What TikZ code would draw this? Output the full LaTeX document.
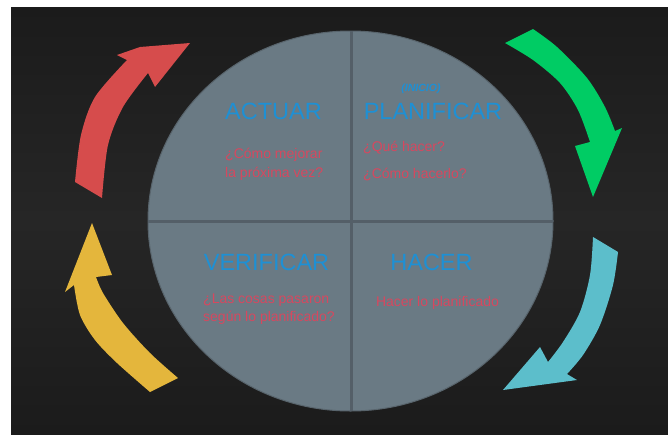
\documentclass[tikz,border=0pt]{standalone}
\usepackage{fontspec}
\setmainfont{Liberation Sans}
\definecolor{bgdark}{RGB}{27,27,27}
\definecolor{bgmid}{RGB}{38,38,38}
\definecolor{disc}{RGB}{106,122,132}
\definecolor{discedge}{RGB}{88,100,108}
\definecolor{divline}{RGB}{84,95,104}
\definecolor{titleblue}{RGB}{30,144,212}
\definecolor{qpink}{RGB}{214,72,95}
\definecolor{redc}{RGB}{214,76,76}
\definecolor{greenc}{RGB}{0,204,100}
\definecolor{cyanc}{RGB}{92,190,203}
\definecolor{yellowc}{RGB}{228,182,60}
\tikzset{
  title/.style={text=titleblue, font=\fontsize{23.5}{26}\selectfont, inner sep=0pt},
  question/.style={text=qpink, font=\fontsize{14}{17}\selectfont, inner sep=0pt},
  inicio/.style={text=titleblue, font=\fontsize{10.5}{12}\selectfont\bfseries\itshape, inner sep=0pt},
}
\begin{document}
\begin{tikzpicture}[x=1pt,y=-1pt]
\useasboundingbox (0,0) rectangle (668,434);
\fill[white] (0,0) rectangle (668,434);
\shade[top color=bgdark, bottom color=bgdark, middle color=bgmid] (11,7) rectangle (668,434);
% disc
\filldraw[fill=disc, draw=discedge, line width=1pt] (350.5,221) ellipse [x radius=202.5, y radius=190];
\draw[divline, line width=3pt] (351,31) -- (351,411);
\draw[divline, line width=3pt] (148,221) -- (553,221);
% arrows
\fill[redc] (75,182) -- plot[smooth] coordinates {(75,182) (81,135) (95,97) (127,60)} -- (117,55) -- (140,47) -- (190,43) -- (155,87) -- (148,73) -- plot[smooth] coordinates {(148,73) (123,107) (108,145) (102,198)} -- cycle;
\fill[greenc] (505,43) -- (533,29) -- plot[smooth] coordinates {(533,29) (557,47) (587,78) (605,107) (615,131)} -- (622,128) -- (593,197) -- (575,146) -- (590,142) -- plot[smooth] coordinates {(590,142) (578,110) (560,83) (533,60) (505,43)} -- cycle;
\fill[cyanc] (593,237) -- (618,252) -- plot[smooth] coordinates {(618,252) (613,285) (600,325) (583,355) (567,374)} -- (577,380) -- (503,390) -- (540,347) -- (548,362) -- plot[smooth] coordinates {(548,362) (563,342) (580,312) (590,275) (593,237)} -- cycle;
\fill[yellowc] (150,392) -- (178,378) -- plot[smooth] coordinates {(178,378) (150,353) (123,323) (103,293) (96,277)} -- (112,275) -- (92,223) -- (65,292) -- (74,285) -- plot[smooth] coordinates {(74,285) (80,315) (95,340) (117,363) (150,392)} -- cycle;
% texts
\node[title] (actuar) at (273.5,111.5) {ACTUAR};
\node[title] (planificar) at (433,111.5) {PLANIFICAR};
\node[inicio] (inicio) at (421,89) {(INICIO)};
\node[title] (verificar) at (266.5,262) {VERIFICAR};
\node[title] (hacer) at (431.5,262) {HACER};
\node[question, anchor=west] (q1) at (225,155) {¿Cómo mejorar};
\node[question, anchor=west] (q2) at (225,174) {la próxima vez?};
\node[question, anchor=west] (q3) at (363,148) {¿Qué hacer?};
\node[question, anchor=west] (q4) at (363,175) {¿Cómo hacerlo?};
\node[question, anchor=west] (q5) at (203,300) {¿Las cosas pasaron};
\node[question, anchor=west] (q6) at (203,318) {según lo planificado?};
\node[question] (q7) at (437.5,303) {Hacer lo planificado};
\end{tikzpicture}
\end{document}
